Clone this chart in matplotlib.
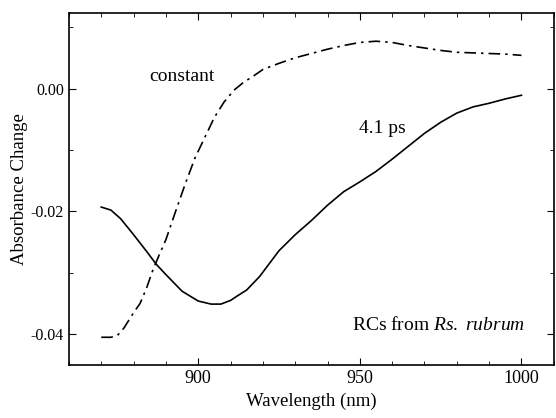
import matplotlib
matplotlib.use("Agg")
import matplotlib.pyplot as plt
from matplotlib.ticker import MultipleLocator, FormatStrFormatter

plt.rcParams["font.family"] = ["Liberation Serif", "DejaVu Serif"]
plt.rcParams["mathtext.fontset"] = "custom"
plt.rcParams["mathtext.rm"] = "Liberation Serif"
plt.rcParams["mathtext.it"] = "Liberation Serif:italic"

# 4.1 ps component
wl_fast = [870, 873, 876, 880, 884, 887, 890, 895, 900, 904, 907, 910, 912, 915,
           919, 922, 925, 930, 935, 940, 945, 950, 955, 960, 965, 970, 975, 980,
           985, 990, 995, 1000]
abs_fast = [-0.0193, -0.0198, -0.0212, -0.0238, -0.0265, -0.0286, -0.0303, -0.0330,
            -0.0346, -0.0351, -0.0351, -0.0345, -0.0338, -0.0328, -0.0306, -0.0285,
            -0.0264, -0.0238, -0.0215, -0.0190, -0.0168, -0.0152, -0.0135, -0.0115,
            -0.0094, -0.0073, -0.0055, -0.0040, -0.0030, -0.0024, -0.0017, -0.0011]

# constant component
wl_const = [870, 873, 875, 877, 880, 882, 884, 886, 888, 890, 893, 896, 899, 902,
            905, 908, 911, 914, 917, 920, 925, 930, 935, 940, 945, 950, 955, 960,
            965, 970, 975, 980, 985, 990, 995, 1000]
abs_const = [-0.0405, -0.0405, -0.0402, -0.0390, -0.0365, -0.0350, -0.0325, -0.0295,
             -0.0270, -0.0246, -0.0200, -0.0155, -0.0113, -0.0080, -0.0047, -0.0022,
             -0.0003, 0.0010, 0.0020, 0.0031, 0.0041, 0.0050, 0.0057, 0.0064, 0.0070,
             0.0075, 0.0077, 0.0075, 0.0070, 0.0066, 0.0062, 0.0059, 0.0058, 0.0057,
             0.0056, 0.0054]

fig = plt.figure(figsize=(5.56, 4.18), dpi=100)
ax = fig.add_axes([0.124, 0.127, 0.872, 0.842])

ax.plot(wl_fast, abs_fast, color="black", lw=1.2)
ax.plot(wl_const, abs_const, color="black", lw=1.2, dashes=(7, 3, 1.5, 3))

ax.set_xlim(860, 1010)
ax.set_ylim(-0.045, 0.0123)
ax.xaxis.set_major_locator(MultipleLocator(50))
ax.xaxis.set_minor_locator(MultipleLocator(10))
ax.yaxis.set_major_locator(MultipleLocator(0.02))
ax.yaxis.set_minor_locator(MultipleLocator(0.01))
ax.tick_params(which="both", direction="in", top=True, right=True)
ax.tick_params(axis="x", labelsize=13)
ax.tick_params(axis="y", labelsize=11.5)
ax.tick_params(which="major", length=5)
ax.tick_params(which="minor", length=3)
ax.yaxis.set_major_formatter(FormatStrFormatter("%.2f"))
for s in ax.spines.values():
    s.set_linewidth(1.2)

ax.set_xlabel("Wavelength (nm)", fontsize=13.5, labelpad=4)
ax.set_ylabel("Absorbance Change", fontsize=13.5, labelpad=2)

ax.text(895, 0.0019, "constant", fontsize=14, ha="center", va="center")
ax.text(957, -0.0065, "4.1 ps", fontsize=14, ha="center", va="center")
ax.text(1001, -0.0385, "RCs from $\\it{Rs.}$ $\\it{rubrum}$", fontsize=14, ha="right", va="center")

fig.savefig("out.png", dpi=100)
